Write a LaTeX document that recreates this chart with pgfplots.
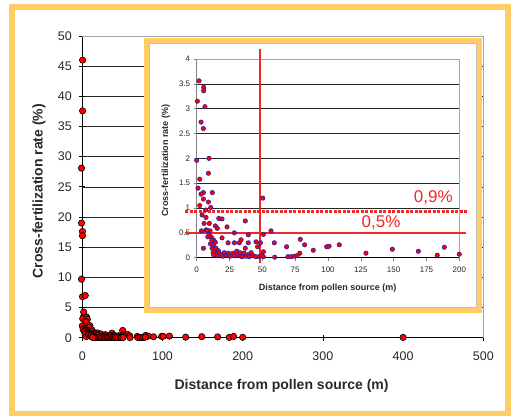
\documentclass[border=0pt]{standalone}
\usepackage{fontspec}
\setmainfont{Liberation Sans}
\usepackage{pgfplots}
\pgfplotsset{compat=1.18}
\definecolor{frameorange}{RGB}{255,204,102}
\definecolor{redline}{RGB}{240,40,40}
\definecolor{markblue}{RGB}{40,30,170}
\definecolor{txt}{RGB}{40,40,40}

\pgfplotstableread{
x y
1.8 3.56
5.3 3.43
5.3 3.36
0.5 3.15
6.3 3.04
3.3 2.73
5.1 2.60
0.0 1.96
9.4 2.00
8.9 1.70
2.3 1.58
1.0 1.40
5.1 1.31
3.3 1.28
11.9 1.31
5.1 1.18
2.3 1.05
8.9 1.12
10.7 1.01
6.9 0.96
4.1 0.86
7.1 0.81
5.6 0.69
9.6 0.69
16.8 0.79
19.3 0.78
37.0 0.74
50.3 1.20
3.6 0.54
7.1 0.56
10.2 0.54
14.2 0.64
15.7 0.59
23.1 0.62
28.7 0.50
56.6 0.54
50.8 0.47
5.1 0.19
9.6 0.46
11.2 0.41
12.7 0.36
14.2 0.31
11.7 0.19
19.3 0.40
23.9 0.30
28.7 0.30
32.5 0.30
33.8 0.36
39.3 0.46
39.3 0.30
37.0 0.19
45.2 0.32
48.5 0.30
46.4 0.22
59.1 0.30
68.5 0.22
78.9 0.37
82.2 0.26
88.8 0.15
99.0 0.22
100.8 0.23
108.6 0.26
128.9 0.09
149.0 0.17
168.8 0.13
183.2 0.05
188.6 0.21
200.0 0.07
12.7 0.26
14.7 0.19
16.5 0.14
13.5 0.12
14.0 0.08
15.5 0.05
17.0 0.10
18.5 0.06
20.0 0.03
21.0 0.10
22.5 0.05
24.0 0.09
25.5 0.03
27.4 0.09
29.0 0.04
30.5 0.13
31.5 0.05
33.0 0.10
34.5 0.02
36.0 0.09
37.5 0.03
39.0 0.06
40.0 0.02
41.5 0.10
43.0 0.04
45.0 0.02
47.5 0.02
49.0 0.04
50.8 0.12
50.8 0.02
59.4 0.01
69.5 0.02
72.0 0.02
74.5 0.03
76.5 0.04
78.5 0.09
8.0 0.55
8.5 0.42
10.5 0.28
11.5 0.35
12.5 0.10
13.0 0.05
}\insetdata

\pgfplotstableread{
x y
0.4 46.0
0.4 37.6
-1.0 28.1
-1.0 19.0
0.2 17.6
0.2 16.9
-1.0 9.7
0.2 6.8
3.7 7.0
1.7 4.25
400 0.05
}\extradata

\begin{document}
\begin{tikzpicture}[x=1pt,y=1pt]
\path[use as bounding box] (0,0) rectangle (511,415);
\draw[frameorange, line width=6pt] (11.5,1.5) rectangle (508,408);

% main chart
\begin{axis}[
  at={(82.3pt,77.3pt)}, anchor=south west,
  scale only axis, width=401pt, height=301.7pt,
  xmin=0, xmax=500, ymin=0, ymax=50,
  xtick={0,100,...,500}, ytick={0,5,...,50},
  axis x line*=bottom, axis y line*=left,
  axis line style={black, line width=0.8pt, -},
  ymajorgrids, grid style={black!85, line width=0.6pt},
  tick align=center, major tick length=6pt,
  tick style={black, line width=0.8pt},
  /pgf/number format/assume math mode=true,
  tick label style={font=\fontsize{12.5}{14}\selectfont, text=txt},
  xticklabel style={yshift=-8pt},
  yticklabel style={xshift=-4pt},
  xlabel={Distance from pollen source (m)},
  ylabel={Cross-fertilization rate (\%)},
  label style={font=\fontsize{14}{16}\selectfont\bfseries, text=txt},
  xlabel style={at={(axis description cs:0.497,-0.159)}, anchor=center},
  ylabel style={at={(axis description cs:-0.108,0.486)}, anchor=center},
  clip=false,
]
\draw[gray!70, line width=0.8pt] (rel axis cs:0,1) -- (rel axis cs:1,1) -- (rel axis cs:1,0);
\addplot[only marks, mark=*, mark size=3.2pt,
  mark options={fill=red, draw=black, line width=0.6pt}] table[x=x,y=y] {\insetdata};
\addplot[only marks, mark=*, mark size=3.2pt,
  mark options={fill=red, draw=black, line width=0.6pt}] table[x=x,y=y] {\extradata};
\end{axis}

% inset frame
\draw[frameorange, line width=5pt, fill=white] (146.5,104.5) rectangle (479.5,374.8);
\draw[gray!50, line width=0.8pt] (149.5,107.5) rectangle (476.5,371.8);

\begin{axis}[
  at={(196.7pt,157.3pt)}, anchor=south west,
  scale only axis, width=262.6pt, height=198.7pt,
  xmin=0, xmax=200, ymin=0, ymax=4,
  xtick={0,25,...,200}, ytick={0,0.5,...,4},
  axis x line*=bottom, axis y line*=left,
  x axis line style={black, line width=0.8pt, -},
  y axis line style={gray, line width=1.5pt, -},
  ymajorgrids, grid style={black!85, line width=0.6pt},
  tick align=outside, major tick length=3pt,
  tick style={gray, line width=0.6pt},
  /pgf/number format/assume math mode=true,
  tick label style={font=\fontsize{8}{9}\selectfont, text=txt},
  xticklabel style={yshift=-3pt},
  xlabel={Distance from pollen source (m)},
  ylabel={Cross-fertilization rate (\%)},
  label style={font=\fontsize{9}{10}\selectfont\bfseries, text=txt},
  xlabel style={at={(axis description cs:0.499,-0.152)}, anchor=center},
  ylabel style={at={(axis description cs:-0.118,0.487)}, anchor=center},
  clip=false,
]
\draw[gray!70, line width=0.8pt] (rel axis cs:0,1) -- (rel axis cs:1,1) -- (rel axis cs:1,0);
\addplot[only marks, mark=*, mark size=2.2pt,
  mark options={fill=red, draw=markblue, line width=0.6pt}] table[x=x,y=y] {\insetdata};
\addplot[redline, line width=1.6pt] coordinates {(48.2,-0.1) (48.2,4.2)};
\addplot[redline, line width=2.6pt, dash pattern=on 3pt off 1.5pt] coordinates {(-8.9,0.93) (206.6,0.93)};
\addplot[redline, line width=1.8pt] coordinates {(-8.9,0.50) (205,0.50)};
\node[text=redline, font=\fontsize{17}{18}\selectfont] at (axis cs:180.2,1.20) {0,9\%};
\node[text=redline, font=\fontsize{17}{18}\selectfont] at (axis cs:140.4,0.71) {0,5\%};
\end{axis}
\end{tikzpicture}
\end{document}
